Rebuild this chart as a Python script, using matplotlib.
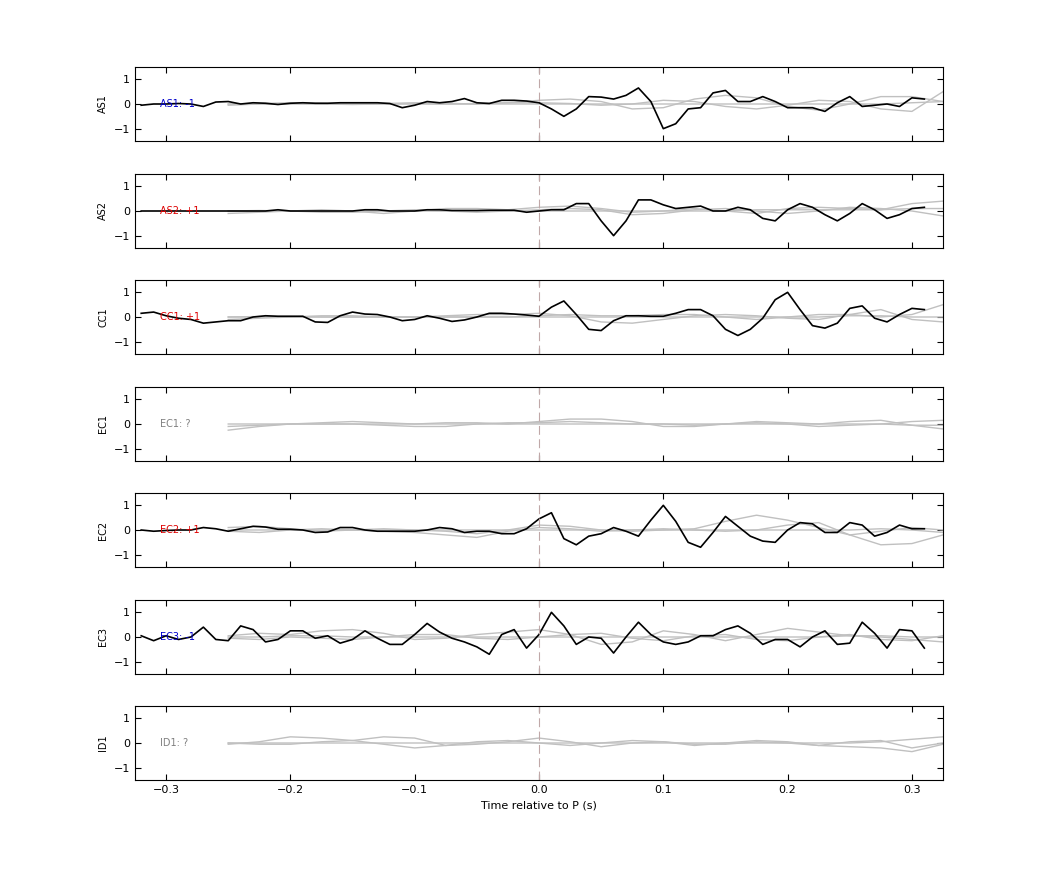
import matplotlib
matplotlib.use("Agg")
import matplotlib.pyplot as plt
import numpy as np

stations = ["AS1", "AS2", "CC1", "EC1", "EC2", "EC3", "ID1"]
polarity = ["-1", "+1", "+1", "?", "+1", "-1", "?"]
pol_colors = {"-1": "#0000cc", "+1": "#dd0000", "?": "#808080"}

# black traces sampled every 0.01 s, -0.32 .. 0.31
t_black = np.round(np.arange(-0.32, 0.315, 0.01), 2)
black = {
    "AS1": [-0.05, 0, 0, 0.02, 0, -0.1, 0.08, 0.1, 0, 0.05, 0.03, -0.02, 0.03, 0.05, 0.03, 0.03,
            0.05, 0.05, 0.05, 0.05, 0.02, -0.15, -0.05, 0.1, 0.05, 0.1, 0.22, 0.05, 0.02, 0.15, 0.15, 0.12,
            0.05, -0.2, -0.5, -0.2, 0.3, 0.28, 0.2, 0.35, 0.65, 0.1, -1.0, -0.8, -0.2, -0.15, 0.45, 0.55,
            0.1, 0.1, 0.3, 0.1, -0.15, -0.15, -0.15, -0.3, 0.05, 0.3, -0.1, -0.05, 0, -0.1, 0.25, 0.2],
    "AS2": [0, 0, 0, 0, 0, 0, 0, 0, 0, 0, 0, 0.05, 0, 0, 0, 0,
            0, 0, 0.05, 0.05, 0, 0, 0, 0.05, 0.05, 0.02, 0.02, 0.02, 0.03, 0.03, 0.03, -0.05,
            0, 0.05, 0.05, 0.3, 0.3, -0.4, -1.0, -0.4, 0.45, 0.45, 0.25, 0.1, 0.15, 0.2, 0, 0,
            0.15, 0.05, -0.3, -0.4, 0.05, 0.3, 0.15, -0.15, -0.4, -0.1, 0.3, 0.05, -0.3, -0.15, 0.1, 0.15],
    "CC1": [0.15, 0.2, 0.05, -0.05, -0.1, -0.25, -0.2, -0.15, -0.15, 0, 0.05, 0.03, 0.03, 0.03, -0.2, -0.22,
            0.05, 0.2, 0.12, 0.1, 0, -0.15, -0.1, 0.05, -0.05, -0.18, -0.12, 0, 0.15, 0.15, 0.12, 0.08,
            0.03, 0.4, 0.65, 0.1, -0.5, -0.55, -0.15, 0.05, 0.05, 0.03, 0.03, 0.15, 0.3, 0.3, 0.05, -0.5,
            -0.75, -0.5, -0.05, 0.7, 1.0, 0.3, -0.35, -0.45, -0.25, 0.35, 0.45, -0.05, -0.2, 0.1, 0.35, 0.3],
    "EC2": [0, -0.05, -0.02, 0, 0, 0.1, 0.05, -0.05, 0.05, 0.15, 0.12, 0.03, 0.03, 0, -0.1, -0.08,
            0.1, 0.1, 0, -0.05, -0.05, -0.05, -0.05, 0, 0.1, 0.05, -0.1, -0.05, -0.05, -0.15, -0.15, 0.05,
            0.45, 0.7, -0.35, -0.6, -0.25, -0.15, 0.1, -0.05, -0.25, 0.4, 1.0, 0.35, -0.5, -0.7, -0.1, 0.55,
            0.15, -0.25, -0.45, -0.5, 0, 0.3, 0.25, -0.1, -0.1, 0.3, 0.2, -0.25, -0.1, 0.2, 0.05, 0.05],
    "EC3": [0.05, -0.15, 0.05, -0.1, 0, 0.4, -0.1, -0.15, 0.45, 0.3, -0.2, -0.1, 0.25, 0.25, -0.05, 0.05,
            -0.25, -0.1, 0.25, -0.05, -0.3, -0.3, 0.1, 0.55, 0.2, -0.05, -0.2, -0.4, -0.7, 0.1, 0.3, -0.45,
            0.1, 1.0, 0.45, -0.3, 0, -0.05, -0.65, 0, 0.6, 0.1, -0.2, -0.3, -0.2, 0.05, 0.05, 0.3,
            0.45, 0.15, -0.3, -0.1, -0.1, -0.4, 0, 0.25, -0.3, -0.25, 0.6, 0.15, -0.45, 0.3, 0.25, -0.45],
}

# gray traces sampled every 0.025 s, -0.25 .. 0.325
t_gray = np.round(np.arange(-0.25, 0.33, 0.025), 3)
gray = {
    "AS1": [[0, 0.02, 0.05, 0.03, 0, 0.02, 0.05, 0.03, 0, 0.05, 0.15, 0.2, 0.1, -0.2, -0.15, 0.2, 0.35, 0.25, -0.1, -0.25, 0, 0.3, 0.3, 0.1],
            [-0.05, 0, 0.02, 0, -0.02, 0, 0.02, 0, 0.02, 0.05, 0.05, 0.02, -0.05, 0, 0.15, 0.1, -0.1, -0.2, -0.05, 0.15, 0.1, -0.2, -0.3, 0.5],
            [0, 0, 0, 0, 0, 0, 0, 0, 0, 0, 0, 0, 0, 0, 0, 0, 0, 0, 0, 0, 0, 0, 0.05, 0.1]],
    "AS2": [[-0.1, -0.05, 0, 0.05, 0, -0.1, 0, 0.1, 0.1, 0.05, 0.15, 0.2, 0.1, -0.05, 0, 0.1, 0, -0.1, 0.1, 0.15, 0.1, 0.05, 0.3, 0.4],
            [0, 0.02, 0, -0.05, -0.05, 0, 0.05, 0, -0.05, 0, 0.05, 0.1, 0.05, -0.15, -0.1, 0.05, 0.1, 0, -0.1, 0, 0.15, 0.1, 0, -0.2],
            [0, 0, 0, 0, 0, 0, 0, 0, 0, 0, 0, 0, 0, 0, 0, 0, 0, 0.05, 0.05, 0.05, 0.05, 0.05, 0.1, 0.1]],
    "CC1": [[-0.1, -0.05, 0, 0.05, 0.05, 0, 0, 0.05, 0.1, 0.1, 0.15, 0.05, -0.2, -0.25, -0.1, 0.05, 0.1, 0.05, -0.05, -0.1, 0.1, 0.3, -0.1, -0.2],
            [0, 0, 0, 0, 0, 0, 0, 0, 0, 0, 0.05, 0.1, 0.05, 0.05, 0.1, 0.1, 0, -0.1, 0, 0.1, 0.1, 0, 0.1, 0.5],
            [0, 0.02, 0.02, 0, 0, 0, 0, 0, 0, 0, 0, 0, 0, 0, 0, 0, 0, 0, 0, 0, 0.05, 0.05, 0, 0]],
    "EC1": [[-0.25, -0.1, 0, 0.05, 0.1, 0.05, 0, 0.05, 0.05, 0, 0.1, 0.2, 0.2, 0.1, -0.1, -0.1, 0, 0.1, 0.05, 0, 0.1, 0.15, -0.05, -0.2],
            [-0.1, -0.05, 0, 0, 0, -0.05, -0.1, -0.1, 0, 0.05, 0.05, 0.1, 0.05, 0, 0, -0.05, 0, 0.05, 0, -0.1, -0.05, 0, 0.1, 0.15],
            [0, 0, 0, 0, 0, 0, 0, 0, 0, 0, 0, 0, 0, 0, 0, 0, 0, 0, 0, 0, 0, 0, -0.05, -0.05]],
    "EC2": [[0.1, 0.15, 0.05, -0.05, 0, 0.05, 0, -0.05, -0.15, 0, 0.2, 0.15, 0, -0.05, 0, 0.05, 0.35, 0.6, 0.4, 0.1, -0.2, -0.05, 0.1, 0],
            [-0.05, -0.1, 0, 0.05, 0, -0.05, -0.1, -0.2, -0.3, -0.05, 0.1, 0.05, -0.05, 0, 0.05, 0, -0.05, 0, 0.2, 0.3, -0.2, -0.6, -0.55, -0.2],
            [0, 0, 0, 0, 0, 0, 0, 0, 0, 0, 0, 0, 0, 0, 0, 0, 0, 0, 0, 0, 0, 0.05, 0, -0.1]],
    "EC3": [[0.05, 0.15, 0.1, 0.25, 0.3, 0.15, -0.1, -0.05, 0.1, 0.2, 0.3, 0.1, -0.3, -0.2, 0.25, 0.1, -0.15, 0.1, 0.35, 0.2, 0.05, 0, -0.1, -0.2],
            [-0.05, -0.1, 0, -0.05, -0.1, 0, 0.1, 0.1, -0.05, -0.1, 0, 0.1, 0.15, -0.05, -0.15, 0.05, 0.1, -0.1, -0.15, 0, 0.1, -0.1, -0.15, 0.05],
            [0, 0, 0.05, 0.05, 0, 0, 0, 0, 0, 0, 0, 0, 0, 0, 0, 0, 0, 0, 0, 0, 0.05, 0.05, 0, 0]],
    "ID1": [[-0.05, 0.05, 0.25, 0.2, 0.1, 0.25, 0.2, -0.1, -0.05, 0.05, 0.2, 0.05, -0.15, 0, 0.05, -0.05, -0.05, 0.05, 0, -0.1, 0.05, 0.1, -0.2, 0],
            [0, -0.05, -0.05, 0.05, 0.1, -0.05, -0.2, -0.1, 0.05, 0.1, 0, -0.1, 0, 0.1, 0.05, -0.1, 0, 0.1, 0.05, -0.1, -0.15, -0.2, -0.35, -0.05],
            [0, 0, 0, 0, 0, 0, 0, 0, 0, 0, 0, 0, 0, 0, 0, 0, 0, 0, 0, 0, 0, 0.05, 0.15, 0.25]],
}

fig = plt.figure(figsize=(10.42, 8.75), dpi=100)
W, H = 1042, 875
left, right = 135 / W, 943 / W
tops = [67, 174, 280, 387, 493, 600, 706]
ph = 74
for i, st in enumerate(stations):
    ax = fig.add_axes([left, 1 - (tops[i] + ph) / H, right - left, ph / H])
    for g in gray[st]:
        ax.plot(t_gray, g, color="#c0c0c0", linewidth=1)
    if st in black:
        ax.plot(t_black, black[st], color="black", linewidth=1.2)
    ax.axvline(0, color="#c0a8a8", linestyle=(0, (8, 4)), linewidth=0.8)
    ax.text(-0.305, 0, f"{st}: {polarity[i]}", color=pol_colors[polarity[i]],
            fontsize=7, va="center", ha="left")
    ax.set_xlim(-0.325, 0.325)
    ax.set_ylim(-1.5, 1.5)
    ax.set_yticks([-1, 0, 1])
    ax.set_xticks([-0.3, -0.2, -0.1, 0, 0.1, 0.2, 0.3])
    ax.tick_params(direction="in", top=True, right=True, labelsize=8, length=4)
    ax.set_ylabel(st, fontsize=7)
    if i < len(stations) - 1:
        ax.set_xticklabels([])
    else:
        ax.set_xlabel("Time relative to P (s)", fontsize=8)

plt.savefig("out.png", dpi=100)
